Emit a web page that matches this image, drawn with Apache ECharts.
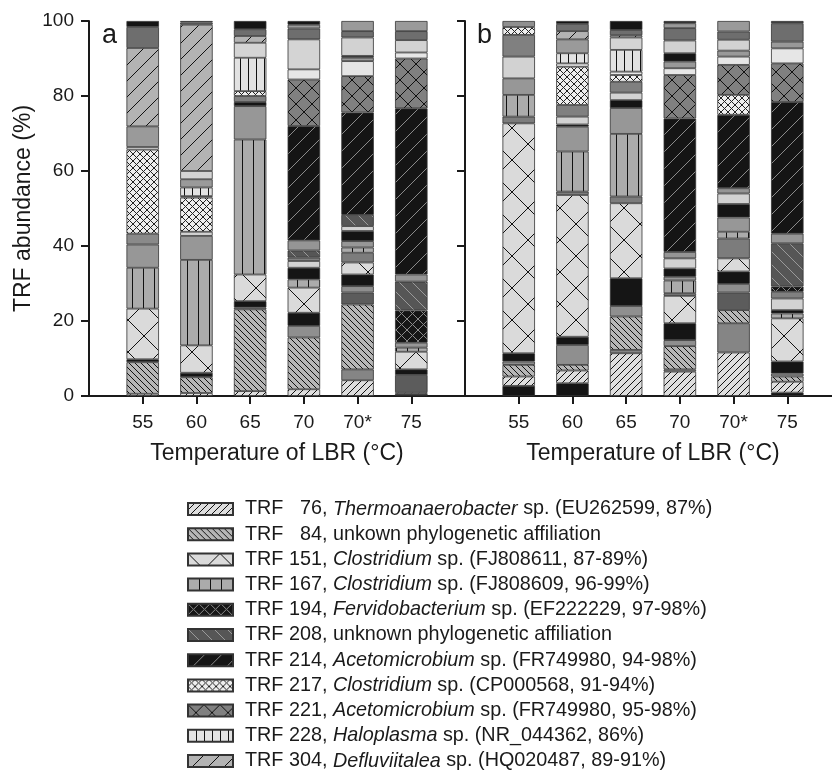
<!DOCTYPE html>
<html><head><meta charset="utf-8">
<script src="https://cdn.jsdelivr.net/npm/echarts@6/dist/echarts.min.js"></script>
<style>html,body{margin:0;padding:0;background:#fff}#c{width:832px;height:770px}</style>
</head><body><div id="c"></div>
<script>
// ---------------- DATA ----------------
const categories = ['55', '60', '65', '70', '70*', '75'];
const yTicks = [0, 20, 40, 60, 80, 100];
const axisTitleX = 'Temperature of LBR (°C)';
const axisTitleY = 'TRF abundance (%)';
const panelLabels = ['a', 'b'];

// legend texts (named TRFs)
const legendNames = ['TRF 76', 'TRF 84', 'TRF 151', 'TRF 167', 'TRF 194', 'TRF 208', 'TRF 214', 'TRF 217', 'TRF 221', 'TRF 228', 'TRF 304'];
const legendPre = ['TRF   76, ', 'TRF   84, ', 'TRF 151, ', 'TRF 167, ', 'TRF 194, ', 'TRF 208, ', 'TRF 214, ', 'TRF 217, ', 'TRF 221, ', 'TRF 228, ', 'TRF 304, '];
const legendGenus = ['Thermoanaerobacter', '', 'Clostridium', 'Clostridium', 'Fervidobacterium', '', 'Acetomicrobium', 'Clostridium', 'Acetomicrobium', 'Haloplasma', 'Defluviitalea'];
const legendPost = [' sp. (EU262599, 87%)', 'unkown phylogenetic affiliation', ' sp. (FJ808611, 87-89%)', ' sp. (FJ808609, 96-99%)', ' sp. (EF222229, 97-98%)', 'unknown phylogenetic affiliation', ' sp. (FR749980, 94-98%)', ' sp. (CP000568, 91-94%)', ' sp. (FR749980, 95-98%)', ' sp. (NR_044362, 86%)', ' sp. (HQ020487, 89-91%)'];

// stacked segment values (%), bottom to top, per temperature [55,60,65,70,70*,75]
// panel a
const a_blk0 = [0, 0, 0, 0, 0, 0.6];
const a_t76  = [0.6, 0.8, 1.3, 1.8, 4.2, 0.4];
const a_g1   = [0, 0, 0, 0, 2.9, 0];
const a_t84  = [8.4, 4.2, 21.8, 13.8, 17.3, 0];
const a_dg1  = [0, 0, 0, 0, 3.2, 4.6];
const a_g2   = [0, 0, 0.5, 3.1, 1.7, 0];
const a_blk1 = [0.8, 1.2, 1.7, 3.5, 3.1, 1.5];
const a_t151 = [13.5, 7.3, 7.1, 6.7, 3.2, 4.7];
const a_g3   = [0, 0, 0, 0, 2.6, 0];
const a_t167 = [10.9, 22.8, 36.0, 2.2, 1.4, 1.1];
const a_g4   = [6.2, 6.4, 8.9, 0, 1.7, 1.3];
const a_g5   = [2.9, 0, 0, 0, 0, 0];
const a_blk2 = [0, 0, 1.1, 3.1, 2.7, 0];
const a_lg1  = [0, 1.1, 0, 1.8, 1.3, 0];
const a_g6   = [0, 0, 1.6, 0.9, 0, 0];
const a_t194 = [0, 0, 0, 0, 0, 8.6];
const a_t208 = [0, 0, 0, 1.9, 3.0, 7.7];
const a_g7   = [0, 0, 0, 2.7, 0, 1.9];
const a_t214 = [0, 0, 0, 30.5, 27.3, 44.3];
const a_t217 = [22.4, 9.1, 1.3, 0, 0, 0];
const a_g8   = [0, 0, 0, 0, 0, 0];
const a_t221 = [0, 0, 0, 12.4, 9.7, 13.3];
const a_lg2  = [0.7, 0.4, 0, 2.7, 4.0, 1.6];
const a_g9   = [0, 0, 0, 0, 0.9, 0];
const a_blk3 = [0, 0, 0, 0, 0.5, 0];
const a_lg3  = [0, 0, 0, 0, 4.9, 3.3];
const a_t228 = [0, 2.3, 8.9, 0, 0, 0];
const a_g10  = [5.5, 2.2, 0, 0, 0, 0];
const a_lg4  = [0, 2.2, 4.0, 8.0, 0, 0];
const a_t304 = [20.9, 39.0, 1.8, 0, 0, 0];
const a_dg2  = [5.6, 0.6, 1.8, 2.9, 1.7, 2.4];
const a_g11  = [0, 0, 0, 1.0, 2.7, 2.7];
const a_blk4 = [1.6, 0.4, 2.2, 1.0, 0, 0];
// panel b
const b_blk0 = [2.7, 3.4, 0, 0, 0, 0.9];
const b_t76  = [2.5, 3.4, 11.4, 6.5, 11.6, 2.9];
const b_g1   = [0, 0, 0.9, 0.6, 7.8, 0];
const b_t84  = [3.1, 1.5, 8.9, 6.2, 3.5, 1.4];
const b_dg1  = [0, 0, 0, 0, 4.7, 0];
const b_g2   = [0.9, 5.3, 2.8, 1.6, 2.3, 0.8];
const b_blk1 = [2.2, 2.2, 7.4, 4.5, 3.3, 3.2];
const b_t151 = [61.3, 37.8, 20.0, 7.3, 3.5, 11.5];
const b_g3   = [1.8, 0.9, 1.8, 0.7, 5.3, 0];
const b_t167 = [5.8, 10.7, 16.7, 3.4, 1.8, 1.3];
const b_g4   = [4.4, 6.6, 6.9, 1.0, 3.8, 0];
const b_g5   = [0, 0, 0, 0, 0, 0];
const b_blk2 = [0, 0.6, 2.1, 2.2, 3.6, 0.9];
const b_lg1  = [5.8, 2.1, 2.0, 2.7, 2.8, 3.1];
const b_g6   = [5.8, 3.1, 2.9, 0, 0, 1.8];
const b_t194 = [0, 0, 0, 0, 0, 1.4];
const b_t208 = [0, 0, 0, 0, 0, 11.5];
const b_g7   = [0, 0, 0, 1.7, 1.4, 2.6];
const b_t214 = [0, 0, 0, 35.6, 19.6, 35.1];
const b_t217 = [2.1, 10.2, 1.8, 0, 5.3, 0];
const b_g8   = [1.6, 0, 0, 0, 0, 0];
const b_t221 = [0, 0, 0, 11.6, 8.0, 10.3];
const b_lg2  = [0, 0.9, 0.9, 1.8, 2.2, 4.0];
const b_g9   = [0, 0, 0, 1.8, 1.6, 1.8];
const b_blk3 = [0, 0, 0, 2.2, 0, 0];
const b_lg3  = [0, 0, 0, 3.4, 2.9, 0];
const b_t228 = [0, 2.7, 5.8, 0, 0, 0];
const b_g10  = [0, 3.7, 0, 0, 0, 0];
const b_lg4  = [0, 0, 3.3, 0, 0, 0];
const b_t304 = [0, 2.2, 0.6, 0, 0, 0];
const b_dg2  = [0, 1.9, 1.4, 3.3, 2.2, 4.9];
const b_g11  = [0, 0, 0, 1.3, 2.8, 0];
const b_blk4 = [0, 0.8, 2.4, 0.6, 0, 0.6];

// stacking order (bottom -> top): [series name, panel a data, panel b data]
const slots = [
  ['_blk0', a_blk0, b_blk0], ['TRF 76', a_t76, b_t76], ['_g1', a_g1, b_g1], ['TRF 84', a_t84, b_t84],
  ['_dg1', a_dg1, b_dg1], ['_g2', a_g2, b_g2], ['_blk1', a_blk1, b_blk1], ['TRF 151', a_t151, b_t151],
  ['_g3', a_g3, b_g3], ['TRF 167', a_t167, b_t167], ['_g4', a_g4, b_g4], ['_g5', a_g5, b_g5],
  ['_blk2', a_blk2, b_blk2], ['_lg1', a_lg1, b_lg1], ['_g6', a_g6, b_g6], ['TRF 194', a_t194, b_t194],
  ['TRF 208', a_t208, b_t208], ['_g7', a_g7, b_g7], ['TRF 214', a_t214, b_t214], ['TRF 217', a_t217, b_t217],
  ['_g8', a_g8, b_g8], ['TRF 221', a_t221, b_t221], ['_lg2', a_lg2, b_lg2], ['_g9', a_g9, b_g9],
  ['_blk3', a_blk3, b_blk3], ['_lg3', a_lg3, b_lg3], ['TRF 228', a_t228, b_t228], ['_g10', a_g10, b_g10],
  ['_lg4', a_lg4, b_lg4], ['TRF 304', a_t304, b_t304], ['_dg2', a_dg2, b_dg2], ['_g11', a_g11, b_g11],
  ['_blk4', a_blk4, b_blk4]
];

// ---------------- STYLES ----------------
function pat(bg, w, h, draw, lc, lw) {
  const c = document.createElement('canvas'); c.width = w; c.height = h;
  const g = c.getContext('2d'); g.fillStyle = bg; g.fillRect(0, 0, w, h);
  g.strokeStyle = lc; g.lineWidth = lw || 1; draw(g, w, h);
  return { image: c, repeat: 'repeat' };
}
const fwd = (g, w, h) => { for (let k = -1; k <= 1; k++) { g.beginPath(); g.moveTo(k * w, h); g.lineTo(k * w + w, 0); g.stroke(); } };
const back = (g, w, h) => { for (let k = -1; k <= 1; k++) { g.beginPath(); g.moveTo(k * w, 0); g.lineTo(k * w + w, h); g.stroke(); } };
const cross = (g, w, h) => { fwd(g, w, h); back(g, w, h); };
const vert = (g, w, h) => { g.beginPath(); g.moveTo(0.5, 0); g.lineTo(0.5, h); g.stroke(); };

const BLK = '#151515';
const styleOf = {
  'TRF 76': pat('#dedede', 7, 7, fwd, '#111', 1),
  'TRF 84': pat('#b6b6b6', 6, 6, back, '#111', 1),
  'TRF 151': pat('#dadada', 32, 32, cross, '#111', 1),
  'TRF 167': pat('#ababab', 11, 4, vert, '#111', 1),
  'TRF 194': pat(BLK, 11, 11, cross, '#8a8a8a', 1),
  'TRF 208': pat('#565656', 13, 13, back, '#9a9a9a', 1),
  'TRF 214': pat(BLK, 17, 17, fwd, '#8a8a8a', 1),
  'TRF 217': pat('#eeeeee', 7, 7, cross, '#222', 1),
  'TRF 221': pat('#808080', 16, 16, cross, '#111', 1),
  'TRF 228': pat('#e2e2e2', 8, 4, vert, '#111', 1),
  'TRF 304': pat('#b3b3b3', 16, 16, fwd, '#111', 1),
  '_blk0': BLK, '_blk1': BLK, '_blk2': BLK, '_blk3': BLK, '_blk4': BLK,
  '_g1': '#858585', '_dg1': '#5c5c5c', '_g2': '#8f8f8f', '_g3': '#7c7c7c', '_g4': '#979797',
  '_g5': '#8a8a8a', '_lg1': '#d2d2d2', '_g6': '#808080', '_g7': '#959595', '_g8': '#8f8f8f',
  '_lg2': '#e6e6e6', '_g9': '#999999', '_lg3': '#d2d2d2', '_g10': '#9a9a9a', '_lg4': '#d4d4d4',
  '_dg2': '#6e6e6e', '_g11': '#9a9a9a'
};

const FONT = "'Liberation Sans', Arial, Helvetica, sans-serif";
const TXT = '#1a1a1a';
const AX = '#1a1a1a';
const xData = [''].concat(categories, ['']);
const pad = arr => ['-'].concat(arr.map(v => (v > 0 ? v : '-')), ['-']);

const series = [];
[0, 1].forEach(p => {
  slots.forEach(s => {
    series.push({
      name: s[0], type: 'bar', stack: 'p' + p, xAxisIndex: p, yAxisIndex: p,
      barWidth: 32.5, data: pad(s[p + 1]),
      itemStyle: { color: styleOf[s[0]], borderColor: '#333', borderWidth: 0.8 },
      emphasis: { disabled: true }, silent: true
    });
  });
});

function xAxis(idx) {
  return {
    type: 'category', gridIndex: idx, data: xData, boundaryGap: false,
    axisLine: { lineStyle: { color: AX, width: 2 } },
    axisTick: { interval: i => i > 0 && i < xData.length - 1, length: 8, lineStyle: { color: AX, width: 2 } },
    axisLabel: { interval: 0, fontSize: 19, fontFamily: FONT, color: TXT, margin: 17 },
    name: axisTitleX, nameLocation: 'middle', nameGap: 46,
    nameTextStyle: { fontSize: 23, fontFamily: FONT, color: TXT }
  };
}
function yAxis(idx) {
  return {
    type: 'value', gridIndex: idx, min: yTicks[0], max: yTicks[yTicks.length - 1], interval: yTicks[1] - yTicks[0],
    axisLine: { show: true, lineStyle: { color: AX, width: 2 } },
    axisTick: { show: true, length: 8, lineStyle: { color: AX, width: 2 } },
    axisLabel: { show: idx === 0, fontSize: 19, fontFamily: FONT, color: TXT, margin: 15 },
    splitLine: { show: false },
    name: idx === 0 ? axisTitleY : '', nameLocation: 'middle', nameGap: 54, nameRotate: 90,
    nameTextStyle: { fontSize: 23, fontFamily: FONT, color: TXT }
  };
}

const chart = echarts.init(document.getElementById('c'), null, { renderer: 'canvas' });
chart.setOption({
  animation: false,
  backgroundColor: '#fff',
  grid: [
    { left: 89, top: 21, width: 376, height: 375, outerBoundsMode: 'none', containLabel: false },
    { left: 465, top: 21, width: 376, height: 375, outerBoundsMode: 'none', containLabel: false }
  ],
  xAxis: [xAxis(0), xAxis(1)],
  yAxis: [yAxis(0), yAxis(1)],
  legend: {
    data: legendNames, orient: 'vertical', left: 187, top: 499, width: 620, height: 300, icon: 'rect',
    itemWidth: 45, itemHeight: 12, itemGap: 5.2, selectedMode: false, padding: 0,
    formatter: name => {
      const i = legendNames.indexOf(name);
      return '{n|' + legendPre[i] + '}' + (legendGenus[i] ? '{i|' + legendGenus[i] + '}' : '') + '{n|' + legendPost[i] + '}';
    },
    textStyle: {
      fontSize: 19.8, fontFamily: FONT, color: TXT, padding: [0, 0, 0, 7],
      rich: {
        n: { fontSize: 19.8, fontFamily: FONT, color: TXT },
        i: { fontSize: 19.8, fontFamily: FONT, color: TXT, fontStyle: 'italic' }
      }
    }
  },
  graphic: [
    { type: 'text', left: 102, top: 22, style: { text: panelLabels[0], fontSize: 27, fontFamily: FONT, fill: TXT } },
    { type: 'text', left: 477, top: 22, style: { text: panelLabels[1], fontSize: 27, fontFamily: FONT, fill: TXT } }
  ],
  series: series
});
</script>
</body></html>
